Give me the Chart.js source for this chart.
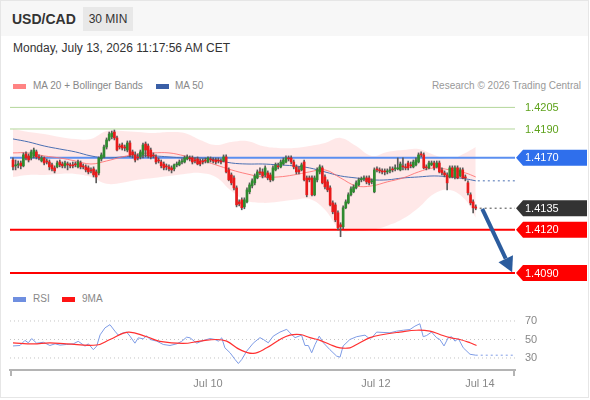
<!DOCTYPE html>
<html>
<head>
<meta charset="utf-8">
<script src="https://cdn.jsdelivr.net/npm/chart.js@4.4.0/dist/chart.umd.min.js"></script>
<style>
html,body{margin:0;padding:0;background:#fff;}
body{width:590px;height:400px;position:relative;overflow:hidden;font-family:"Liberation Sans",Arial,sans-serif;}
#frame{position:absolute;left:0;top:0;width:589px;height:398px;border:1px solid #e6e6e6;box-sizing:border-box;}
#head{position:absolute;left:1px;top:1px;width:587px;height:35px;background:#f7f7f7;}
#pair{position:absolute;left:12px;top:11px;font-size:14px;font-weight:bold;color:#333;line-height:16px;}
#tf{position:absolute;left:83px;top:7px;width:50px;height:24px;background:#e8e8e8;font-size:12px;color:#333;line-height:24px;text-align:center;}
#date{position:absolute;left:13px;top:41px;font-size:12px;color:#333;line-height:14px;}
.leg{position:absolute;font-size:10px;color:#888;line-height:12px;white-space:nowrap;}
.sw{position:absolute;width:13px;height:5px;}
canvas{position:absolute;left:0;}
#price{top:97px;}
#rsi{top:285px;}
</style>
</head>
<body>
<div id="frame"></div>
<div id="head"></div>
<div id="pair">USD/CAD</div>
<div id="tf">30 MIN</div>
<div id="date">Monday, July 13, 2026 11:17:56 AM CET</div>

<div class="sw" style="left:13px;top:84px;background:#ff8383;"></div>
<div class="leg" style="left:33px;top:80px;">MA 20 + Bollinger Bands</div>
<div class="sw" style="left:156px;top:84px;background:#3a5fa6;"></div>
<div class="leg" style="left:175px;top:80px;">MA 50</div>
<div class="leg" style="right:9px;top:80px;color:#999;">Research © 2026 Trading Central</div>

<div class="sw" style="left:13px;top:297px;background:#6f8fe0;"></div>
<div class="leg" style="left:33px;top:293px;">RSI</div>
<div class="sw" style="left:62px;top:297px;background:#ff1414;"></div>
<div class="leg" style="left:82px;top:293px;">9MA</div>

<canvas id="price" width="590" height="188"></canvas>
<canvas id="rsi" width="590" height="115"></canvas>

<script>
// ---------- DATA (30-min USD/CAD candles, index 0..178) ----------
const opens = [
1.41685,1.41644,1.41651,1.41664,1.41644,1.41727,1.41713,1.41699,1.41713,1.41741,
1.41706,1.41678,1.41699,1.41678,1.41671,1.41651,1.41630,1.41637,1.41671,1.41657,
1.41644,1.41657,1.41651,1.41651,1.41657,1.41637,1.41664,1.41644,1.41637,1.41630,
1.41616,1.41623,1.41602,1.41595,1.41692,1.41706,1.41775,1.41824,1.41845,1.41879,
1.41838,1.41782,1.41789,1.41775,1.41754,1.41803,1.41741,1.41720,1.41706,1.41706,
1.41720,1.41796,1.41782,1.41754,1.41720,1.41706,1.41685,1.41671,1.41657,1.41644,
1.41637,1.41630,1.41623,1.41651,1.41651,1.41671,1.41671,1.41692,1.41699,1.41699,
1.41685,1.41692,1.41678,1.41678,1.41685,1.41671,1.41692,1.41685,1.41685,1.41685,
1.41678,1.41678,1.41706,1.41616,1.41581,1.41560,1.41491,1.41394,1.41408,1.41359,
1.41394,1.41464,1.41505,1.41526,1.41560,1.41602,1.41602,1.41581,1.41595,1.41581,
1.41547,1.41616,1.41644,1.41637,1.41657,1.41671,1.41699,1.41699,1.41671,1.41637,
1.41616,1.41616,1.41671,1.41560,1.41560,1.41560,1.41443,1.41547,1.41602,1.41630,
1.41567,1.41533,1.41491,1.41387,1.41373,1.41318,1.41235,1.41221,1.41353,1.41387,
1.41443,1.41464,1.41491,1.41512,1.41547,1.41554,1.41560,1.41560,1.41533,1.41464,
1.41623,1.41616,1.41609,1.41609,1.41602,1.41609,1.41623,1.41623,1.41623,1.41616,
1.41644,1.41637,1.41664,1.41651,1.41637,1.41651,1.41671,1.41727,1.41720,1.41637,
1.41630,1.41651,1.41664,1.41637,1.41664,1.41616,1.41595,1.41581,1.41567,1.41630,
1.41567,1.41630,1.41574,1.41616,1.41567,1.41526,1.41443,1.41394,1.41359];
const highs = [
1.41699,1.41685,1.41678,1.41678,1.41734,1.41741,1.41727,1.41754,1.41768,1.41754,
1.41720,1.41713,1.41706,1.41692,1.41685,1.41664,1.41644,1.41678,1.41685,1.41671,
1.41678,1.41671,1.41664,1.41671,1.41671,1.41685,1.41678,1.41657,1.41651,1.41644,
1.41630,1.41637,1.41616,1.41706,1.41734,1.41789,1.41838,1.41879,1.41886,1.41893,
1.41851,1.41796,1.41803,1.41789,1.41817,1.41817,1.41754,1.41741,1.41727,1.41754,
1.41803,1.41810,1.41796,1.41768,1.41734,1.41720,1.41699,1.41685,1.41671,1.41657,
1.41651,1.41644,1.41657,1.41671,1.41685,1.41692,1.41713,1.41720,1.41713,1.41713,
1.41699,1.41706,1.41692,1.41692,1.41699,1.41706,1.41706,1.41699,1.41699,1.41699,
1.41692,1.41720,1.41720,1.41630,1.41595,1.41574,1.41505,1.41408,1.41422,1.41422,
1.41491,1.41526,1.41554,1.41588,1.41616,1.41630,1.41623,1.41644,1.41609,1.41595,
1.41644,1.41664,1.41664,1.41685,1.41699,1.41713,1.41713,1.41713,1.41685,1.41651,
1.41637,1.41664,1.41685,1.41574,1.41574,1.41574,1.41574,1.41630,1.41651,1.41644,
1.41581,1.41547,1.41505,1.41401,1.41387,1.41332,1.41249,1.41366,1.41408,1.41457,
1.41498,1.41512,1.41540,1.41560,1.41567,1.41574,1.41574,1.41574,1.41554,1.41630,
1.41637,1.41630,1.41623,1.41623,1.41623,1.41637,1.41637,1.41651,1.41699,1.41671,
1.41699,1.41657,1.41678,1.41671,1.41685,1.41699,1.41734,1.41741,1.41734,1.41651,
1.41678,1.41678,1.41678,1.41678,1.41678,1.41630,1.41609,1.41595,1.41644,1.41644,
1.41644,1.41644,1.41630,1.41630,1.41581,1.41540,1.41457,1.41408,1.41373];
const lows = [
1.41616,1.41616,1.41630,1.41623,1.41637,1.41685,1.41671,1.41685,1.41699,1.41692,
1.41685,1.41671,1.41651,1.41657,1.41616,1.41609,1.41595,1.41630,1.41637,1.41630,
1.41630,1.41616,1.41630,1.41630,1.41637,1.41630,1.41623,1.41623,1.41602,1.41588,
1.41595,1.41567,1.41526,1.41581,1.41678,1.41699,1.41761,1.41817,1.41831,1.41824,
1.41748,1.41761,1.41754,1.41748,1.41741,1.41706,1.41699,1.41671,1.41685,1.41692,
1.41699,1.41706,1.41699,1.41692,1.41699,1.41657,1.41664,1.41630,1.41616,1.41616,
1.41609,1.41595,1.41609,1.41637,1.41644,1.41657,1.41664,1.41685,1.41678,1.41657,
1.41664,1.41651,1.41644,1.41657,1.41664,1.41664,1.41671,1.41664,1.41657,1.41664,
1.41657,1.41671,1.41595,1.41540,1.41512,1.41477,1.41359,1.41366,1.41339,1.41346,
1.41387,1.41450,1.41491,1.41512,1.41554,1.41581,1.41560,1.41567,1.41547,1.41533,
1.41540,1.41609,1.41623,1.41630,1.41651,1.41664,1.41678,1.41657,1.41623,1.41588,
1.41588,1.41609,1.41540,1.41429,1.41533,1.41436,1.41436,1.41533,1.41588,1.41519,
1.41484,1.41464,1.41366,1.41311,1.41256,1.41200,1.41152,1.41207,1.41346,1.41380,
1.41436,1.41457,1.41484,1.41505,1.41533,1.41540,1.41519,1.41512,1.41519,1.41457,
1.41602,1.41595,1.41588,1.41581,1.41588,1.41595,1.41602,1.41609,1.41616,1.41609,
1.41616,1.41616,1.41616,1.41630,1.41630,1.41644,1.41664,1.41706,1.41623,1.41616,
1.41623,1.41644,1.41616,1.41630,1.41595,1.41581,1.41567,1.41477,1.41560,1.41560,
1.41554,1.41554,1.41567,1.41554,1.41540,1.41443,1.41373,1.41318,1.41339];
const closes = [
1.41637,1.41651,1.41657,1.41644,1.41720,1.41699,1.41685,1.41741,1.41754,1.41706,
1.41699,1.41699,1.41664,1.41671,1.41637,1.41623,1.41609,1.41664,1.41651,1.41644,
1.41664,1.41651,1.41644,1.41644,1.41651,1.41671,1.41637,1.41637,1.41616,1.41602,
1.41609,1.41581,1.41567,1.41699,1.41720,1.41775,1.41824,1.41865,1.41872,1.41838,
1.41754,1.41775,1.41768,1.41768,1.41803,1.41720,1.41720,1.41685,1.41699,1.41741,
1.41789,1.41754,1.41713,1.41706,1.41713,1.41671,1.41678,1.41644,1.41630,1.41637,
1.41623,1.41616,1.41651,1.41657,1.41671,1.41678,1.41699,1.41706,1.41692,1.41671,
1.41678,1.41657,1.41657,1.41671,1.41678,1.41699,1.41685,1.41678,1.41671,1.41678,
1.41671,1.41706,1.41602,1.41547,1.41526,1.41491,1.41373,1.41380,1.41353,1.41408,
1.41477,1.41512,1.41540,1.41574,1.41602,1.41595,1.41574,1.41630,1.41560,1.41547,
1.41630,1.41651,1.41637,1.41671,1.41685,1.41699,1.41692,1.41671,1.41637,1.41602,
1.41602,1.41651,1.41547,1.41443,1.41547,1.41443,1.41560,1.41616,1.41637,1.41526,
1.41498,1.41477,1.41373,1.41325,1.41269,1.41214,1.41221,1.41353,1.41394,1.41443,
1.41484,1.41498,1.41526,1.41547,1.41554,1.41560,1.41533,1.41526,1.41540,1.41616,
1.41616,1.41609,1.41602,1.41602,1.41609,1.41616,1.41616,1.41630,1.41630,1.41657,
1.41637,1.41630,1.41630,1.41644,1.41671,1.41685,1.41720,1.41720,1.41630,1.41630,
1.41664,1.41664,1.41630,1.41664,1.41602,1.41595,1.41581,1.41526,1.41630,1.41567,
1.41630,1.41560,1.41616,1.41560,1.41560,1.41457,1.41387,1.41353,1.41350];

// Moving averages & Bollinger bands, read at candle indices
const maIdx = [0,6,12,18,24,30,36,42,48,54,60,66,72,78,84,90,96,102,108,114,120,126,132,138,144,150,156,162,168,174,178];
const ma50 = [1.41831,1.41810,1.41782,1.41761,1.41741,1.41713,1.41699,1.41706,1.41713,1.41713,1.41706,1.41699,1.41699,1.41685,1.41664,1.41657,1.41657,1.41651,1.41644,1.41630,1.41602,1.41574,1.41560,1.41547,1.41547,1.41560,1.41567,1.41574,1.41567,1.41554,1.41540];
const ma20 = [1.41734,1.41734,1.41713,1.41699,1.41678,1.41657,1.41678,1.41706,1.41727,1.41734,1.41734,1.41713,1.41685,1.41651,1.41616,1.41588,1.41567,1.41567,1.41581,1.41602,1.41616,1.41560,1.41505,1.41505,1.41533,1.41560,1.41602,1.41630,1.41616,1.41595,1.41567];
const bandUpper = [1.41900,1.41879,1.41865,1.41845,1.41831,1.41831,1.41886,1.41886,1.41879,1.41872,1.41879,1.41872,1.41824,1.41789,1.41810,1.41817,1.41782,1.41768,1.41768,1.41782,1.41803,1.41838,1.41782,1.41713,1.41741,1.41754,1.41761,1.41720,1.41692,1.41734,1.41775];
const bandLower = [1.41567,1.41581,1.41581,1.41588,1.41588,1.41567,1.41519,1.41526,1.41547,1.41560,1.41574,1.41588,1.41595,1.41567,1.41470,1.41401,1.41387,1.41394,1.41408,1.41415,1.41339,1.41200,1.41193,1.41200,1.41228,1.41276,1.41353,1.41450,1.41477,1.41408,1.41283];
const ma50Last = 1.41540;
const lastPrice = 1.4135;

// Key levels
const levelValues = [1.4205, 1.4190, 1.4170, 1.4135, 1.4120, 1.4090];
const levelLabels = ['1.4205','1.4190','1.4170','1.4135','1.4120','1.4090'];

// Forecast arrow (index, price)
const arrowFrom = [180.5, 1.41345];
const arrowTo = [192, 1.40905];

// RSI panel
const rsiIdx = [0,2.7,4.6,5.9,7.2,9.1,11.7,14.2,16.2,18.1,20.6,23.2,25.1,27.7,29,30.9,32.2,33.5,35.4,37.3,39.2,40.5,42.4,43.7,45,46.9,48.2,50.1,51.4,52.7,55.3,57.8,60.4,63,64.9,66.8,68.1,70.7,73.2,75.8,77.7,79,80.3,81.5,83.5,85.4,86.7,88,89.9,92.4,95,96.3,98.2,100.1,102.7,105.3,106.5,108.5,111,112.3,113.6,114.9,116.2,117.8,119.4,121.9,124.5,125.8,127,129.6,132.2,135.4,136.7,138,139.9,145,147.6,150.1,152.7,154.6,156.5,157.8,159.1,161,163,164.2,165.8,167.4,168.7,170,171.3,173.2,175.8,178];
const rsiVal = [43,43.5,49,46.4,51,46,47,43.5,45.3,43.9,44.6,45.3,48,42.8,45.3,39,42.8,55,62.6,66,59,54.7,57.2,58,53.6,46,51.8,50.7,54,50,48.2,44.6,43.5,45.3,48,52.5,51.8,46,48.9,51,50,48.2,51.8,41,35.6,28.4,24,28.4,37.4,46,52,50,46.4,53.6,58,61,57.2,52,54.7,43.5,43.5,35.6,44.6,53.6,46.4,39,32,30.9,43,50,53,54.7,51.8,51.8,58,57.2,59,60,60.8,64.4,67,53,54.3,58,51.8,50,43,51.8,53,48.2,51,41,34,33];
const rsiMaIdx = [0,7.8,14.2,20.6,32.2,37.3,44.3,51.4,56.5,65.5,71.9,78.3,82.2,87.3,92.4,97.6,102.7,106.5,110.4,114.2,118.1,121.9,125.8,129.6,132.2,137.3,142.4,148.8,155.3,160.4,164.2,168.1,171.9,175.8,178.3];
const rsiMaVal = [46.4,45.3,46.4,45.3,44,50,58,52.9,48,45.7,48.2,50,48.2,39,35,41,50,54.7,55.4,52,49,44.6,41,41,44.6,52,55.4,58,60,59,55.4,52,50,46.4,43.5];
const rsiTicks = [30, 50, 70];

// X axis tick labels
const xTickIdx = [75, 139.6, 179.6];
const xTickLabels = ['Jul 10', 'Jul 12', 'Jul 14'];

// ---------- CHART ----------
const FONT = '"Liberation Sans", Arial, sans-serif';
const XMIN = -1.15, XMAX = 193.1;
const PMIN = 1.408167, PMAX = 1.421222;
const idx = opens.map((_, i) => i);
const pts = (xs, ys) => xs.map((x, i) => ({x: x, y: ys[i]}));
const hline = v => [{x: XMIN, y: v}, {x: XMAX, y: v}];

const levelStyle = [
  {line:'#b3d69a', w:1, text:'#5ea21c', tag:null},
  {line:'#b3d69a', w:1, text:'#5ea21c', tag:null},
  {line:'#5b8ff0', w:2, text:'#fff', tag:'#2f6fec'},
  {line:null, w:0, text:'#fff', tag:'#333333'},
  {line:'#ff0000', w:2, text:'#fff', tag:'#ff0000'},
  {line:'#ff0000', w:2, text:'#fff', tag:'#ff0000'}
];

const bodyColors = idx.map(i => {
  const d = closes[i] - opens[i];
  if (Math.abs(d) < 0.00002) return '#666666';
  return d > 0 ? '#2f8a2f' : '#e81a1a';
});

const datasets = [];
datasets.push({type:'line', data: pts(maIdx, bandUpper), borderWidth:0, pointRadius:0, tension:0.4,
  fill:'+1', backgroundColor:'rgba(255,100,100,0.15)', order:30});
datasets.push({type:'line', data: pts(maIdx, bandLower), borderWidth:0, pointRadius:0, tension:0.4, fill:false, order:31});
levelValues.forEach((v, k) => {
  const st = levelStyle[k];
  if (!st.line) return;
  datasets.push({type:'line', data: hline(v), borderColor: st.line, borderWidth: st.w, pointRadius:0, fill:false, order:20});
});
datasets.push({type:'line', data: pts(maIdx, ma20), borderColor:'rgba(255,110,110,0.85)', borderWidth:1, pointRadius:0, tension:0.4, fill:false, order:10});
datasets.push({type:'line', data: pts(maIdx, ma50), borderColor:'#4a6fb2', borderWidth:1, pointRadius:0, tension:0.4, fill:false, order:10});
datasets.push({type:'line', data: [{x: 178.8, y: ma50Last}, {x: XMAX, y: ma50Last}], borderColor:'#4a6fb2', borderWidth:1, borderDash:[2,3], pointRadius:0, fill:false, order:10});
datasets.push({type:'line', data: [{x: 179.5, y: lastPrice}, {x: XMAX, y: lastPrice}], borderColor:'#444', borderWidth:1, borderDash:[2,3], pointRadius:0, fill:false, order:10});
datasets.push({type:'bar', data: idx.map(i => ({x:i, y:[lows[i], highs[i]]})), backgroundColor:'#5a5a5a', barThickness:1, grouped:false, order:3});
datasets.push({type:'bar', data: idx.map(i => ({x:i, y:[opens[i], closes[i]]})), backgroundColor: bodyColors, barThickness:2, minBarLength:1, grouped:false, order:2});

const overlay = {
  id: 'overlay',
  afterDatasetsDraw(chart) {
    const {ctx, scales:{x, y}} = chart;
    const x0 = x.getPixelForValue(arrowFrom[0]), y0 = y.getPixelForValue(arrowFrom[1]);
    const x1 = x.getPixelForValue(arrowTo[0]), y1 = y.getPixelForValue(arrowTo[1]);
    const ang = Math.atan2(y1 - y0, x1 - x0);
    const L = 15, W = 8;
    const bx = x1 - L * Math.cos(ang), by = y1 - L * Math.sin(ang);
    ctx.save();
    ctx.strokeStyle = '#2b5c9e'; ctx.fillStyle = '#2b5c9e'; ctx.lineWidth = 4;
    ctx.beginPath(); ctx.moveTo(x0, y0); ctx.lineTo(bx, by); ctx.stroke();
    ctx.beginPath();
    ctx.moveTo(x1, y1);
    ctx.lineTo(bx + W * Math.sin(ang), by - W * Math.cos(ang));
    ctx.lineTo(bx - W * Math.sin(ang), by + W * Math.cos(ang));
    ctx.closePath(); ctx.fill();
    ctx.restore();
  },
  afterDraw(chart) {
    const {ctx, chartArea, scales:{y}} = chart;
    ctx.save();
    ctx.font = '11px ' + FONT;
    ctx.textBaseline = 'middle';
    ctx.textAlign = 'left';
    levelValues.forEach((v, k) => {
      const st = levelStyle[k];
      const py = y.getPixelForValue(v);
      const r = chartArea.right;
      if (st.tag) {
        ctx.fillStyle = st.tag;
        ctx.beginPath();
        ctx.moveTo(r + 1, py);
        ctx.lineTo(r + 8, py - 8);
        ctx.lineTo(587, py - 8);
        ctx.lineTo(587, py + 8);
        ctx.lineTo(r + 8, py + 8);
        ctx.closePath(); ctx.fill();
      }
      ctx.fillStyle = st.text;
      ctx.fillText(levelLabels[k], r + 10, py + 0.5);
    });
    ctx.restore();
  }
};

new Chart(document.getElementById('price'), {
  type: 'bar',
  data: {datasets},
  options: {
    responsive:false, animation:false, events:[],
    layout:{padding:{left:10, right:75, top:0, bottom:0}},
    plugins:{legend:{display:false}, tooltip:{enabled:false}},
    scales:{
      x:{type:'linear', min:XMIN, max:XMAX, offset:false, display:false},
      y:{type:'linear', min:PMIN, max:PMAX, beginAtZero:false, display:false}
    }
  },
  plugins:[overlay]
});

const endTicks = {
  id:'endTicks',
  afterDraw(chart) {
    const {ctx, chartArea:a} = chart;
    ctx.save();
    ctx.strokeStyle = '#b4b4b4'; ctx.lineWidth = 2;
    ctx.beginPath();
    ctx.moveTo(a.left + 1, a.bottom); ctx.lineTo(a.left + 1, a.bottom + 6);
    ctx.moveTo(a.right - 1, a.bottom); ctx.lineTo(a.right - 1, a.bottom + 6);
    ctx.stroke();
    ctx.restore();
  }
};

const rsiSets = rsiTicks.map(v => ({data: hline(v), borderColor:'#c4c4c4', borderWidth:1, borderDash:[1,3], pointRadius:0, fill:false, order:9}));
rsiSets.push({data: pts(rsiIdx, rsiVal), borderColor:'#7e9ce6', borderWidth:1, pointRadius:0, tension:0, fill:false, order:2});
rsiSets.push({data: [{x: rsiIdx[rsiIdx.length-1], y: rsiVal[rsiVal.length-1]}, {x: XMAX, y: rsiVal[rsiVal.length-1]}], borderColor:'#7e9ce6', borderWidth:1, borderDash:[2,3], pointRadius:0, fill:false, order:3});
rsiSets.push({data: pts(rsiMaIdx, rsiMaVal), borderColor:'#ff3030', borderWidth:1.2, pointRadius:0, tension:0.4, fill:false, order:1});

new Chart(document.getElementById('rsi'), {
  type:'line',
  data:{datasets: rsiSets},
  options:{
    responsive:false, animation:false, events:[],
    layout:{padding:{left:10, right:0, top:0, bottom:8}},
    plugins:{legend:{display:false}, tooltip:{enabled:false}},
    scales:{
      x:{type:'linear', min:XMIN, max:XMAX, offset:false,
        afterBuildTicks: s => { s.ticks = xTickIdx.map(v => ({value:v})); },
        afterFit: s => { s.height = 22; s.paddingLeft = 0; s.paddingRight = 0; },
        ticks:{autoSkip:false, maxRotation:0, padding:7, color:'#888', font:{size:11, family:FONT},
          callback:(v, i) => xTickLabels[i]},
        grid:{display:false, drawTicks:false},
        border:{display:true, color:'#b4b4b4', width:2}
      },
      y:{type:'linear', position:'right', min:17, max:108.9,
        afterBuildTicks: s => { s.ticks = rsiTicks.map(v => ({value:v})); },
        afterFit: s => { s.width = 75; s.paddingTop = 0; s.paddingBottom = 0; },
        ticks:{color:'#888', padding:10, font:{size:11, family:FONT}},
        grid:{display:false, drawTicks:false},
        border:{display:false}
      }
    }
  },
  plugins:[endTicks]
});
</script>
</body>
</html>
